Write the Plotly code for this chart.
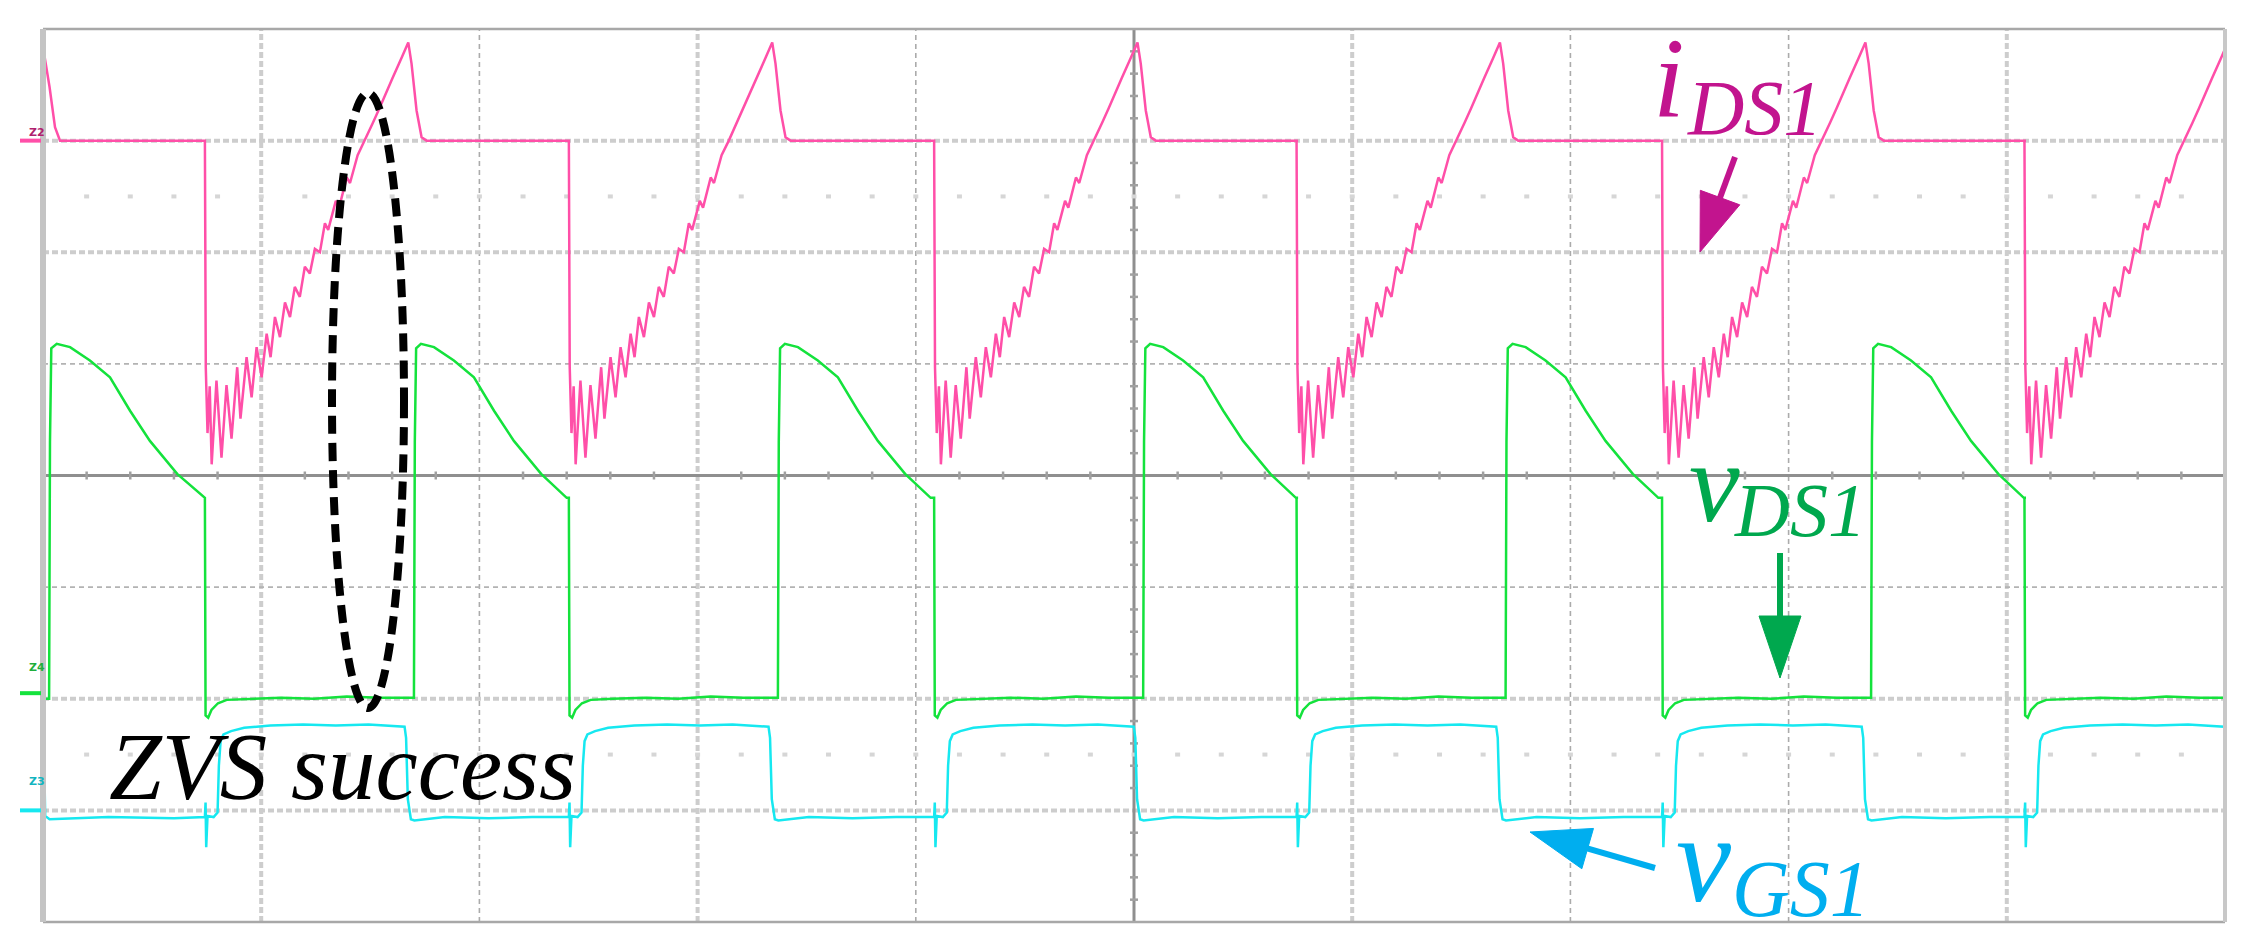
import plotly.graph_objects as go

# scope screen in divisions: 10 across, 8 high (centre = 0)
x_range = [0, 10]
y_range = [-4, 4]

# falling edges of i_DS1 (div)
drop_times = [0.742, 2.410, 4.084, 5.745, 7.420, 9.081]

# i_DS1: lead-in at the left edge, then one period after each drop
ids_lead_t = [0.000, 0.030, 0.055, 0.078, 0.400]
ids_lead_v = [3.84, 3.48, 3.12, 3.00, 3.00]
ids_t = [0.000, 0.004, 0.012, 0.022, 0.031, 0.053, 0.076, 0.099, 0.122, 0.148, 0.163,
         0.191, 0.214, 0.237, 0.260, 0.283, 0.301, 0.321, 0.344, 0.367, 0.390, 0.412,
         0.435, 0.458, 0.481, 0.504, 0.527, 0.550, 0.565, 0.600, 0.615, 0.650, 0.665,
         0.700, 0.733, 0.770, 0.800, 0.830, 0.860, 0.901, 0.932, 0.947, 0.970, 0.993,
         1.016, 1.668]
ids_v = [3.00, 0.97, 0.38, 0.80, 0.10, 0.85, 0.16, 0.81, 0.33, 0.97, 0.51,
         1.06, 0.70, 1.15, 0.88, 1.27, 1.06, 1.42, 1.24, 1.55, 1.42, 1.69,
         1.60, 1.87, 1.81, 2.03, 2.00, 2.26, 2.20, 2.46, 2.40, 2.67, 2.62,
         2.87, 3.00, 3.16, 3.29, 3.43, 3.56, 3.74, 3.88, 3.69, 3.27, 3.03,
         3.00, 3.00]

# v_DS1
vds_lead_t = [0.000, 0.028, 0.032, 0.038, 0.063, 0.124, 0.215, 0.307, 0.399, 0.490, 0.615, 0.735]
vds_lead_v = [-2.00, -2.00, 0.30, 1.14, 1.18, 1.15, 1.03, 0.88, 0.58, 0.31, 0.015, -0.19]
vds_t = [0.000, 0.003, 0.015, 0.030, 0.060, 0.100, 0.200, 0.350, 0.500, 0.650, 0.800,
         0.958, 0.962, 0.968, 0.990, 1.050, 1.141, 1.233, 1.325, 1.416, 1.541, 1.658, 1.668]
vds_v = [-0.20, -2.15, -2.17, -2.10, -2.04, -2.01, -2.00, -1.99, -2.00, -1.98, -1.99,
         -1.99, 0.30, 1.14, 1.18, 1.15, 1.03, 0.88, 0.58, 0.31, 0.015, -0.20, -0.20]

# v_GS1
vgs_lead_t = [0.000, 0.004, 0.010, 0.030, 0.300, 0.600]
vgs_lead_v = [-2.27, -2.40, -3.05, -3.08, -3.06, -3.07]
vgs_t = [0.000, 0.003, 0.006, 0.012, 0.040, 0.058, 0.064, 0.072, 0.085, 0.120, 0.180,
         0.300, 0.450, 0.600, 0.750, 0.915, 0.922, 0.930, 0.944, 0.960, 1.100, 1.300,
         1.500, 1.668]
vgs_v = [-3.06, -2.93, -3.33, -3.05, -3.06, -3.02, -2.60, -2.38, -2.32, -2.29, -2.26,
         -2.24, -2.23, -2.24, -2.23, -2.25, -2.35, -2.90, -3.08, -3.09, -3.06, -3.07,
         -3.06, -3.06]

PINK, GREEN, CYAN = "#ff4fa8", "#14e23c", "#16e8f0"

W, H = 2247, 946
L, R, T, B = 43, 22, 29, 24
PW, PH = W - L - R, H - T - B


def build(lead_t, lead_v, cyc_t, cyc_v):
    xs, ys = list(lead_t), list(lead_v)
    for d in drop_times:
        xs += [d + t for t in cyc_t]
        ys += list(cyc_v)
    return xs, ys


def to_data(px, py):
    return (px - L) / PW * 10, 4 - (py - T) / PH * 8


def to_paper(px, py):
    return (px - L) / PW, 1 - (py - T) / PH


fig = go.Figure()
for lead_t, lead_v, cyc_t, cyc_v, col in [
    (vgs_lead_t, vgs_lead_v, vgs_t, vgs_v, CYAN),
    (vds_lead_t, vds_lead_v, vds_t, vds_v, GREEN),
    (ids_lead_t, ids_lead_v, ids_t, ids_v, PINK),
]:
    xs, ys = build(lead_t, lead_v, cyc_t, cyc_v)
    fig.add_trace(go.Scatter(x=xs, y=ys, mode="lines",
                             line=dict(color=col, width=2.5), hoverinfo="skip"))

# graticule
thick_x, thick_y = [1, 3, 6, 9], [3, 2, -2, -3]
for gx in range(1, 10):
    if gx == 5:
        continue
    if gx in thick_x:
        ln = dict(color="#cdcdcd", width=4, dash="6px,3px")
    else:
        ln = dict(color="#ababab", width=1.6, dash="5px,4px")
    fig.add_shape(type="line", x0=gx, x1=gx, y0=-4, y1=4, line=ln, layer="below")
for gy in range(-3, 4):
    if gy == 0:
        continue
    if gy in thick_y:
        ln = dict(color="#cdcdcd", width=4, dash="6px,3px")
    else:
        ln = dict(color="#b3b3b3", width=1.6, dash="5px,4px")
    fig.add_shape(type="line", x0=0, x1=10, y0=gy, y1=gy, line=ln, layer="below")

# centre cross with minor ticks
fig.add_shape(type="line", x0=0, x1=10, y0=0, y1=0, line=dict(color="#8f8f8f", width=3), layer="below")
fig.add_shape(type="line", x0=5, x1=5, y0=-4, y1=4, line=dict(color="#8f8f8f", width=3), layer="below")
tx = 4 / PW * 10
ty = 4 / PH * 8
for i in range(1, 50):
    if i % 5 == 0:
        continue
    fig.add_shape(type="line", x0=i * 0.2, x1=i * 0.2, y0=-ty, y1=ty,
                  line=dict(color="#a0a0a0", width=2.5), layer="below")
for i in range(1, 40):
    if i % 5 == 0:
        continue
    yv = -4 + i * 0.2
    fig.add_shape(type="line", x0=5 - tx, x1=5 + tx, y0=yv, y1=yv,
                  line=dict(color="#a0a0a0", width=2.5), layer="below")
# dotted rows
dx = 2.5 / PW * 10
for row in [2.5, -2.5]:
    for i in range(1, 50):
        fig.add_shape(type="line", x0=i * 0.2 - dx, x1=i * 0.2 + dx, y0=row, y1=row,
                      line=dict(color="#d6d6d6", width=4), layer="below")

# frame
fig.add_shape(type="line", xref="paper", yref="paper", x0=0, x1=1, y0=1, y1=1,
              line=dict(color="#a8a8a8", width=2.5))
fig.add_shape(type="line", xref="paper", yref="paper", x0=0, x1=1, y0=0, y1=0,
              line=dict(color="#a8a8a8", width=2.5))
fig.add_shape(type="line", xref="paper", yref="paper", x0=0, x1=0, y0=0, y1=1,
              line=dict(color="#c4c4c4", width=6))
fig.add_shape(type="line", xref="paper", yref="paper", x0=1, x1=1, y0=0, y1=1,
              line=dict(color="#c8c8c8", width=4))

# channel level markers in the left margin
for lvl, col, tcol, txt, ty_px in [(3.0, PINK, "#b0206e", "Z2", 124),
                                   (-1.95, GREEN, "#1fae3c", "Z4", 676),
                                   (-3.0, CYAN, "#12b4c0", "Z3", 790)]:
    fig.add_shape(type="line", xref="paper", yref="y", x0=(20 - L) / PW, x1=(41 - L) / PW,
                  y0=lvl, y1=lvl, line=dict(color=col, width=4))
    px_, py_ = to_paper(27, ty_px)
    fig.add_annotation(xref="paper", yref="paper", x=px_, y=py_,
                       text="<b>" + txt + "</b>", showarrow=False,
                       font=dict(family="DejaVu Sans", size=11, color=tcol))

# dotted ellipse
ex0, ey0 = to_data(332, 708)
ex1, ey1 = to_data(404, 93)
fig.add_shape(type="circle", x0=ex0, x1=ex1, y0=ey0, y1=ey1,
              line=dict(color="black", width=8, dash="18px,9px"))


def add_arrow(tail, tip, color, head_len=60, head_w=42, shaft_w=6):
    ddx, ddy = tip[0] - tail[0], tip[1] - tail[1]
    n = (ddx * ddx + ddy * ddy) ** 0.5
    ux, uy = ddx / n, ddy / n
    bx, by = tip[0] - ux * head_len, tip[1] - uy * head_len
    nx, ny = -uy, ux
    p1 = to_data(bx + nx * head_w / 2, by + ny * head_w / 2)
    p2 = to_data(bx - nx * head_w / 2, by - ny * head_w / 2)
    p3 = to_data(*tip)
    s0 = to_data(*tail)
    s1 = to_data(bx + ux * 5, by + uy * 5)
    fig.add_shape(type="line", x0=s0[0], y0=s0[1], x1=s1[0], y1=s1[1],
                  line=dict(color=color, width=shaft_w))
    path = "M {} {} L {} {} L {} {} Z".format(p1[0], p1[1], p2[0], p2[1], p3[0], p3[1])
    fig.add_shape(type="path", path=path, fillcolor=color, line=dict(color=color, width=1))


MAG, DKG, BLU = "#c2148e", "#00a84e", "#00aeef"
add_arrow((1735, 157), (1700, 252), MAG, head_len=58)
add_arrow((1780, 553), (1780, 678), DKG, head_len=62)
add_arrow((1655, 868), (1530, 832), BLU, head_len=60)


def label(text, px, baseline, size, color):
    x, y = to_paper(px, baseline + 0.216 * size)
    fig.add_annotation(xref="paper", yref="paper", x=x, y=y, text="<i>" + text + "</i>",
                       showarrow=False, xanchor="left", yanchor="bottom", borderpad=0,
                       font=dict(family="Liberation Serif", size=size, color=color))


label("i", 1652, 118, 114, MAG)
label("DS1", 1686, 135, 78, MAG)
label("v", 1688, 522, 114, DKG)
label("DS1", 1733, 537, 76, DKG)
label("v", 1675, 902, 124, BLU)
label("GS1", 1731, 917, 80, BLU)
label("ZVS success", 108, 800, 95, "black")

fig.update_xaxes(range=x_range, visible=False)
fig.update_yaxes(range=y_range, visible=False)
fig.update_layout(width=W, height=H, margin=dict(l=L, r=R, t=T, b=B),
                  plot_bgcolor="white", paper_bgcolor="white", showlegend=False)

fig.write_html("out.html", config={"displayModeBar": False},
               post_script="document.body.style.margin='0';")
